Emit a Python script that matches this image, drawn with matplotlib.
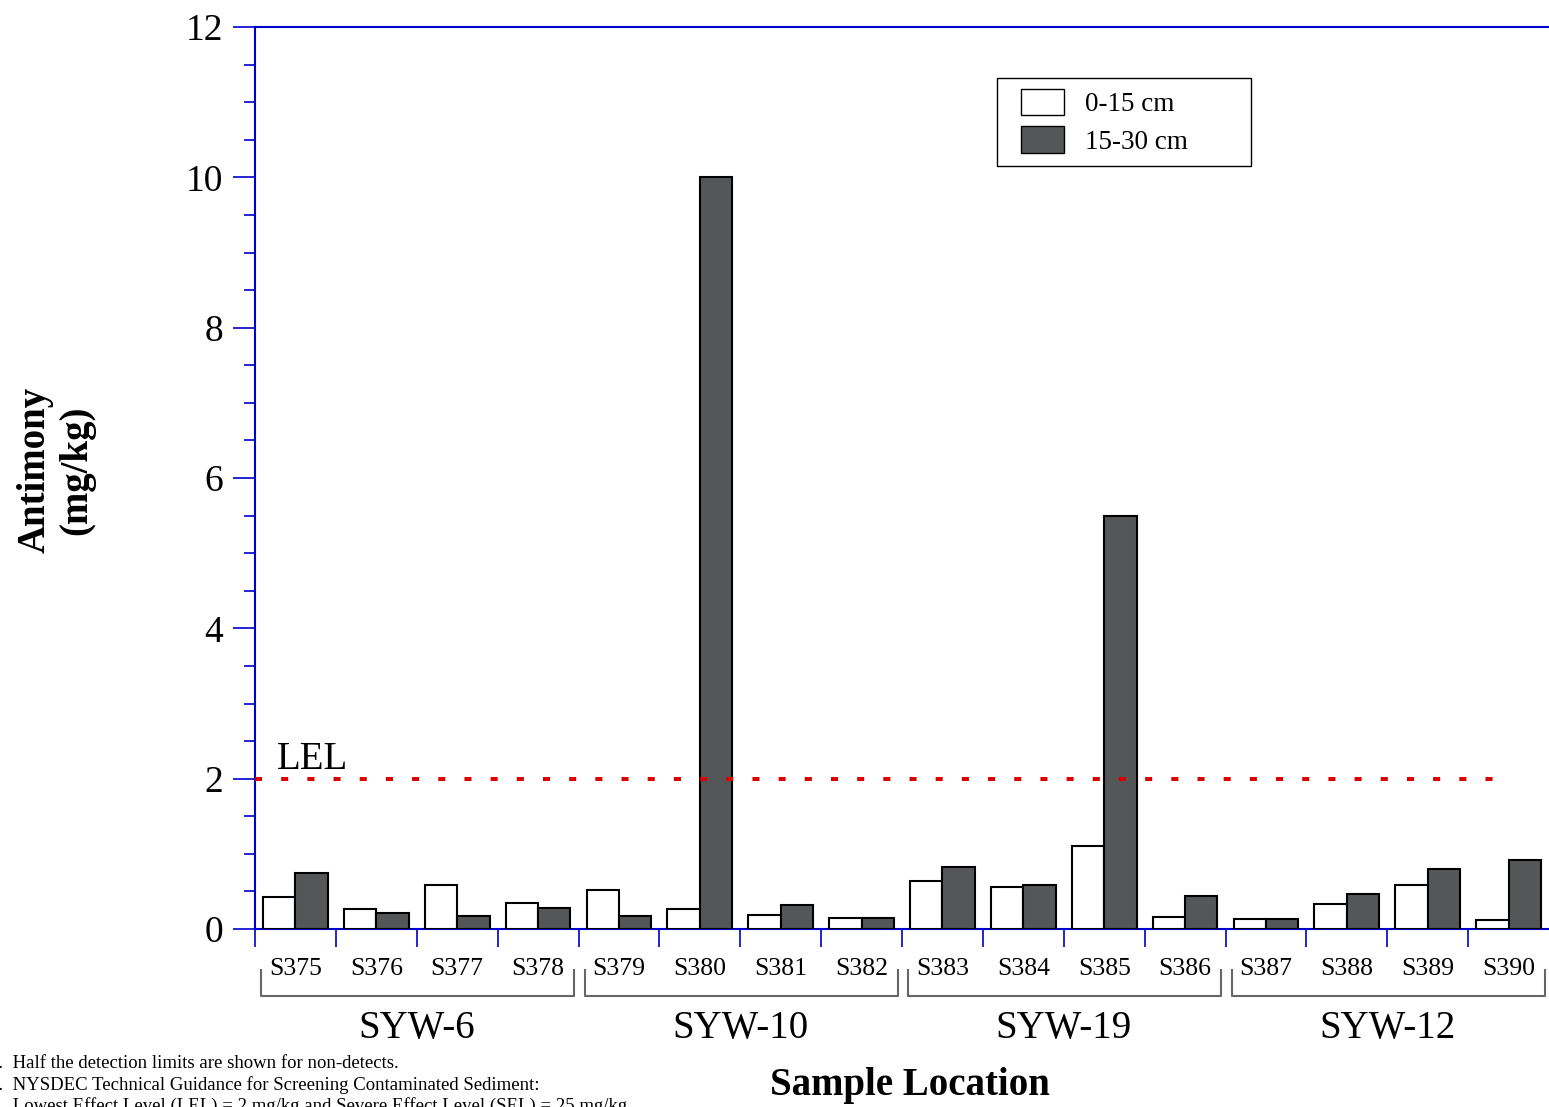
import numpy as np
import matplotlib
matplotlib.use('Agg')
import matplotlib.pyplot as plt
from matplotlib.patches import Patch, Rectangle

plt.rcParams['font.family'] = ['Liberation Serif', 'DejaVu Serif']

# antimony concentrations, mg/kg (half detection limit for non-detects)
samples = ['S375', 'S376', 'S377', 'S378', 'S379', 'S380', 'S381', 'S382',
           'S383', 'S384', 'S385', 'S386', 'S387', 'S388', 'S389', 'S390']
shallow = [0.43, 0.27, 0.58, 0.34, 0.515, 0.26, 0.18, 0.14,
           0.635, 0.555, 1.10, 0.155, 0.13, 0.33, 0.58, 0.12]
deep = [0.74, 0.21, 0.17, 0.275, 0.17, 10.0, 0.32, 0.14,
        0.83, 0.58, 5.5, 0.435, 0.13, 0.46, 0.795, 0.915]
groups = ['SYW-6', 'SYW-10', 'SYW-19', 'SYW-12']
depth_labels = ['0-15 cm', '15-30 cm']
lel = 2.0

axis_blue = '#0000cc'
dark = '#555658'

fig = plt.figure(figsize=(15.49, 11.07), dpi=100)
ax = fig.add_axes([255 / 1549, 1 - 929 / 1107, 1294 / 1549, 902 / 1107])

x = np.arange(len(samples))
w = 0.4
ax.bar(x - w, shallow, w, align='edge', color='white', edgecolor='black', linewidth=1.5, zorder=3)
ax.bar(x, deep, w, align='edge', color=dark, edgecolor='black', linewidth=1.5, zorder=3)

# LEL screening line
ax.plot([-0.5, 14.82], [lel, lel], color='#dd0000', lw=2.9, dashes=(1.75, 4.75),
        solid_capstyle='butt', dash_capstyle='butt', zorder=4)
ax.text(-0.23, lel + 0.13, 'LEL', fontsize=28, ha='left', va='baseline')

ax.set_xlim(-0.5, len(samples) - 0.5)
ax.set_ylim(0, 12)

# axes styling
for side in ['left', 'bottom', 'top']:
    ax.spines[side].set_color(axis_blue)
    ax.spines[side].set_linewidth(1.5)
ax.spines['right'].set_visible(False)

ax.set_yticks(np.arange(0, 13, 2))
ax.set_yticks(np.arange(0, 12.01, 0.5), minor=True)
ax.tick_params(axis='y', which='major', direction='out', length=16, width=1.2,
               color=axis_blue, labelsize=27, pad=7)
ax.tick_params(axis='y', which='minor', direction='out', length=8, width=1.2, color=axis_blue)

ax.set_xticks(np.arange(-0.5, len(samples) - 0.5, 1.0))
ax.set_xticklabels([])
ax.set_xticks(x, minor=True)
ax.set_xticklabels(samples, minor=True)
ax.tick_params(axis='x', which='major', direction='out', length=13, width=1.2, color=axis_blue)
ax.tick_params(axis='x', which='minor', length=0, labelsize=18.5, pad=21)

# group brackets and names under the sample labels
for g, name in enumerate(groups):
    x0 = g * 4 - 0.42
    x1 = g * 4 + 3.45
    y0, y1 = -0.55, -0.89
    ax.plot([x0, x0, x1, x1], [y0, y1, y1, y0], color='#666666', lw=1.5, clip_on=False)
    ax.text(g * 4 + 1.5, -1.32, name, fontsize=28, ha='center', va='center', clip_on=False)

fig.text(910 / 1549, 1 - 1085 / 1107, 'Sample Location', fontsize=28, fontweight='bold',
         ha='center', va='center')
fig.text(56 / 1549, 1 - 470 / 1107, 'Antimony\n(mg/kg)', fontsize=28, fontweight='bold',
         ha='center', va='center', rotation=90, linespacing=1.15, multialignment='center')

# legend: entries without frame, box drawn separately
handles = [Patch(facecolor='white', edgecolor='black', linewidth=1.0),
           Patch(facecolor=dark, edgecolor='black', linewidth=1.0)]
ax.legend(handles, depth_labels, loc='upper left', bbox_to_anchor=(0.592, 0.9313),
          fontsize=19.5, frameon=False, handlelength=1.6, handleheight=1.12,
          handletextpad=0.75, labelspacing=0.33, borderpad=0, borderaxespad=0)
ax.add_patch(Rectangle((0.5734, 0.8459), 0.1963, 0.0976, transform=ax.transAxes,
                       facecolor='none', edgecolor='black', linewidth=1.0, zorder=5))

# footnotes
notes = ['1.  Half the detection limits are shown for non-detects.',
         '2.  NYSDEC Technical Guidance for Screening Contaminated Sediment:',
         '     Lowest Effect Level (LEL) = 2 mg/kg and Severe Effect Level (SEL) = 25 mg/kg']
for i, line in enumerate(notes):
    fig.text(-11 / 1549, 1 - (1064 + 21 * i) / 1107, line, fontsize=13.5, ha='left', va='center')

fig.savefig('out.png', dpi=100)
